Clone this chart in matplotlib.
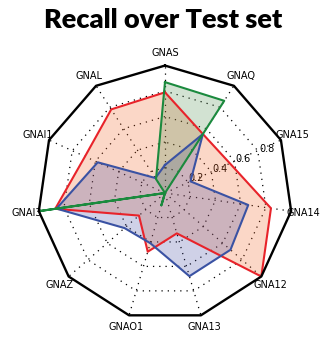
import numpy as np
import matplotlib
matplotlib.use("Agg")
import matplotlib.pyplot as plt

# receptor order, counter-clockwise from the top
labels = ['GNAS', 'GNAL', 'GNAI1', 'GNAI3', 'GNAZ', 'GNAO1',
          'GNA13', 'GNA12', 'GNA14', 'GNA15', 'GNAQ']

recall_red = [0.79, 0.78, 0.69, 0.87, 0.27, 0.48, 0.33, 1.00, 0.84, 0.56, 0.55]
recall_blue = [0.22, 0.14, 0.58, 0.86, 0.42, 0.41, 0.68, 0.68, 0.66, 0.22, 0.55]
recall_green = [0.87, 0.13, 0.0, 1.00, 0.0, 0.10, 0.0, 0.0, 0.0, 0.0, 0.86]

rticks = [0.2, 0.4, 0.6, 0.8]

series = [
    (recall_red, '#e8232a', '#f36323'),
    (recall_blue, '#3a52a3', '#4149a1'),
    (recall_green, '#1b8a3e', '#4f8f4f'),
]

n = len(labels)
# rotate so the first axis sits at the top
theta = (np.linspace(0, 2 * np.pi, n, endpoint=False) + np.pi / 2) % (2 * np.pi)
theta_c = np.append(theta, theta[0])

fig = plt.figure(figsize=(3.24, 3.39), dpi=100)
ax = fig.add_axes([0.1157, 0.0546, 0.787, 0.752], projection='polar')
ax.grid(False)
ax.spines['polar'].set_visible(False)

# polygon grid + spokes, dotted
for lvl in rticks:
    ax.plot(theta_c, [lvl] * (n + 1), color='k', lw=0.9,
            linestyle=(0, (1, 4)), zorder=1)
for t in theta:
    ax.plot([t, t], [0, 1], color='k', lw=0.9, linestyle=(0, (1, 4)), zorder=1)
# polygon frame
ax.plot(theta_c, [1] * (n + 1), color='k', lw=1.7, zorder=5, clip_on=False)

for vals, lc, fc in series:
    v = np.append(vals, vals[0])
    ax.plot(theta_c, v, color=lc, lw=1.5, zorder=3)
    ax.fill(theta_c, v, facecolor=fc, alpha=0.25, zorder=2)

ax.set_xlim(0, 2 * np.pi)
ax.set_ylim(0, 1)
ax.set_xticks(theta)
ax.set_xticklabels(labels, fontsize=7)
ax.tick_params(axis='x', pad=1.8, length=0)
ax.set_yticks(rticks)
ax.set_yticklabels([str(r) for r in rticks], fontsize=7)
ax.set_rlabel_position(22.5)

fig.text(0.503, 1 - 28 / 339, 'Recall over Test set', ha='center',
         va='baseline', fontsize=19.5, fontweight='heavy', family='Lato')

fig.savefig('out.png', dpi=100)
